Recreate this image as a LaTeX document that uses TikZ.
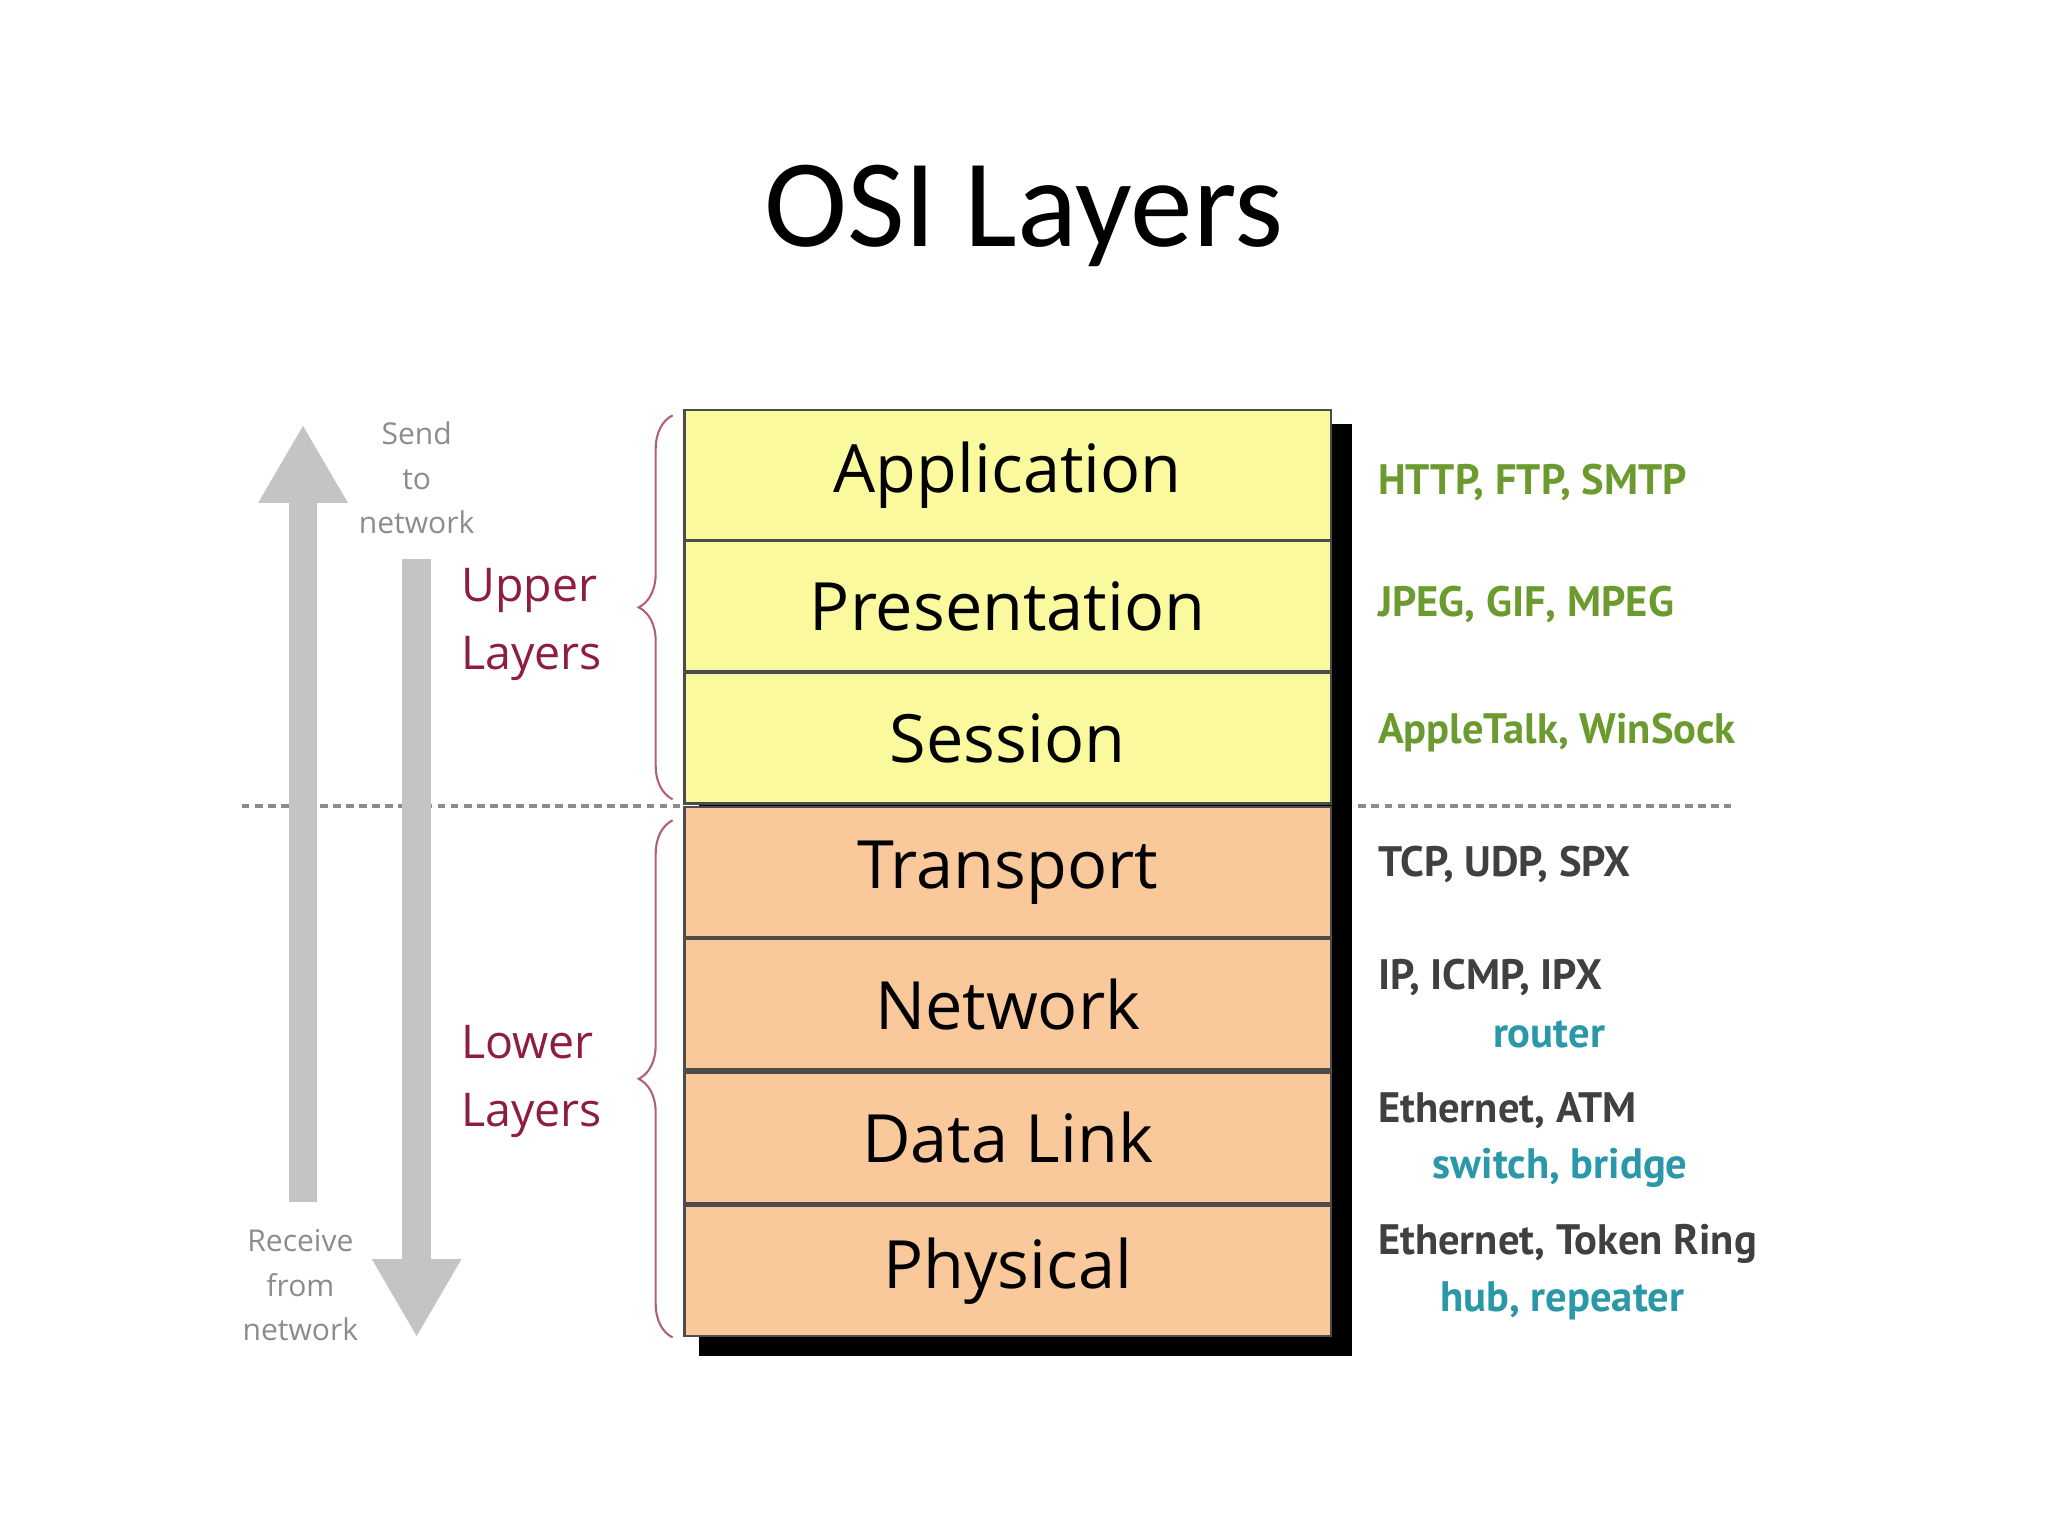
\documentclass[tikz,border=0pt]{standalone}
\usepackage{fontspec}
\setmainfont{Open Sans}
\newfontfamily\titlef{Carlito}
\newfontfamily\sidef{PT Sans}
\usetikzlibrary{decorations.pathreplacing,arrows.meta}
\definecolor{upy}{HTML}{FBF99E}
\definecolor{lowo}{HTML}{F9C89B}
\definecolor{grn}{HTML}{6B9A2E}
\definecolor{tea}{HTML}{2A98A8}
\definecolor{redl}{HTML}{8E1E3E}
\definecolor{arr}{HTML}{C4C4C4}
\begin{document}
\begin{tikzpicture}[x=0.5pt,y=-0.5pt,
 lay/.style={draw=black!70,line width=1pt,minimum width=247.5pt,minimum height=50pt,anchor=north west,inner sep=0pt,font=\fontsize{25.5}{28}\selectfont},
 side/.style={anchor=west,font=\sidef\bfseries\fontsize{16.3}{19}\selectfont},
 lbl/.style={text=redl,align=left,font=\fontsize{17.8}{26}\selectfont},
 small/.style={text=black!45,align=center,font=\fontsize{11.5}{17}\selectfont},
 br/.style={decorate,decoration={brace,amplitude=13pt},draw=redl!70,line width=0.8pt}]
\useasboundingbox (0,0) rectangle (1568,1176);
\node[font=\titlef\fontsize{48}{52}\selectfont] (title) at (784,165) {OSI Layers};
\fill[black] (535,325) rectangle (1035,1038);
\node[lay,fill=upy] (app) at (523,313) {Application};
\node[lay,fill=upy] (pre) at (523,413) {Presentation};
\node[lay,fill=upy] (ses) at (523,514) {Session};
\node[lay,fill=lowo] (tra) at (523,617) {Transport};
\node[lay,fill=lowo] (net) at (523,718) {Network};
\node[lay,fill=lowo] (dl) at (523,820) {Data Link};
\node[lay,fill=lowo] (phy) at (523,922) {Physical};
\draw[densely dashed,black!45,line width=1.5pt] (185,617) -- (523,617);
\draw[densely dashed,black!45,line width=1.5pt] (1040,617) -- (1325,617);
\draw[br] (515,612) -- (515,318);
\draw[br] (515,1024) -- (515,628);
\node[lbl] (up) at (407,478) {Upper\\Layers};
\node[lbl] (lo) at (407,828) {Lower\\Layers};
\draw[arr,line width=11pt,-{Triangle[width=32pt,length=30pt]}] (232,920) -- (232,325);
\draw[arr,line width=11pt,-{Triangle[width=32pt,length=30pt]}] (319,428) -- (319,1024);
\node[small] (snd) at (319,366) {Send\\to\\network};
\node[small] (rcv) at (230,984) {Receive\\from\\network};
\node[side,text=grn] (s1) at (1048,369) {HTTP, FTP, SMTP};
\node[side,text=grn] (s2) at (1048,463) {JPEG, GIF, MPEG};
\node[side,text=grn] (s3) at (1048,561) {AppleTalk, WinSock};
\node[side,text=black!75] (s4) at (1048,662) {TCP, UDP, SPX};
\node[side,text=black!75] (s5) at (1048,748) {IP, ICMP, IPX};
\node[side,text=tea] (s5b) at (1136,792) {router};
\node[side,text=black!75] (s6) at (1048,850) {Ethernet, ATM};
\node[side,text=tea] (s6b) at (1090,894) {switch, bridge};
\node[side,text=black!75] (s7) at (1048,952) {Ethernet, Token Ring};
\node[side,text=tea] (s7b) at (1096,996) {hub, repeater};
\end{tikzpicture}
\end{document}
